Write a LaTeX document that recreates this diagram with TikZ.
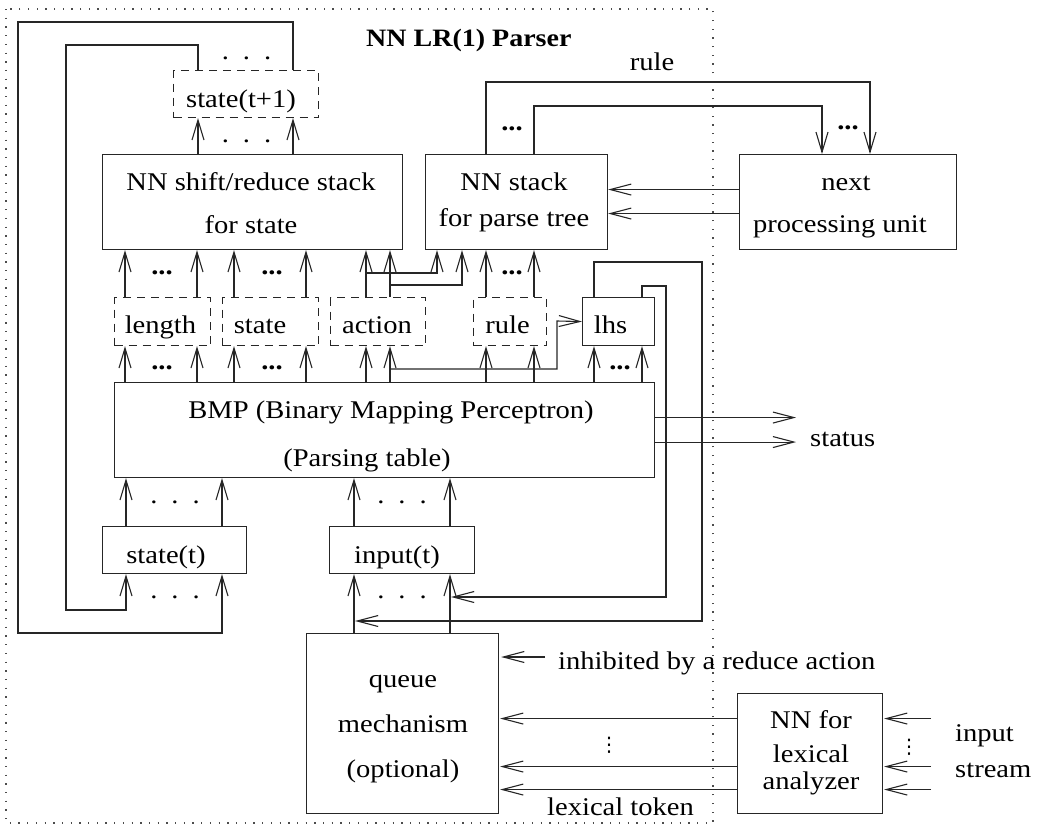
\documentclass[tikz,border=0pt]{standalone}
\usepackage{fontspec}
\setmainfont{Liberation Serif}[FakeStretch=1.12]
\newfontfamily\symfont{DejaVu Sans}
\usetikzlibrary{arrows.meta,calc}
\newcommand{\spdots}{.\hspace{14pt}.\hspace{14pt}.}
\begin{document}
\begin{tikzpicture}[x=1pt,y=-1pt,
  ln/.style={line width=1.1pt, draw=black!85},
  box/.style={ln, draw, inner sep=0pt, anchor=north west},
  dbox/.style={box, dash pattern=on 8pt off 6pt},
  arr/.style={ln, -{Straight Barb[length=20pt,width=12pt]}},
  harr/.style={ln, -{Straight Barb[length=21pt,width=11pt]}},
  txt/.style={inner sep=0pt, anchor=base, font=\fontsize{25.5}{30}\selectfont},
  ltxt/.style={txt, anchor=base west},
  bdots/.style={txt, font=\fontsize{25.5}{30}\selectfont\bfseries},
  vdot/.style={inner sep=0pt, anchor=center, font=\symfont\fontsize{20}{24}\selectfont},
]
\useasboundingbox (0,0) rectangle (1037,828);
\foreach \x in {18,66,125,126,197,198,222,234,293,306,354,366,390,437,450,462,486,534,594,642,822,870}
  \coordinate (c\x) at (\x,0);

% frame
\draw[line width=1.3pt, black!70, dash pattern=on 1.3pt off 7.4pt] (6,9) rectangle (713,823);
\node[ltxt, font=\fontsize{25}{30}\selectfont\bfseries] (title) at (366,46) {NN LR(1) Parser};

% boxes
\node[dbox, minimum width=145pt, minimum height=47pt] (st1) at (173,70) {};
\node[box, minimum width=300pt, minimum height=95pt] (stackS) at (102,154) {};
\node[box, minimum width=182pt, minimum height=95pt] (stackP) at (425,154) {};
\node[box, minimum width=217pt, minimum height=95pt] (next) at (739,154) {};
\node[dbox, minimum width=96pt, minimum height=48pt] (length) at (114,297) {};
\node[dbox, minimum width=96pt, minimum height=48pt] (stateB) at (222,297) {};
\node[dbox, minimum width=95pt, minimum height=48pt] (action) at (330,297) {};
\node[dbox, minimum width=73pt, minimum height=48pt] (rule) at (473,297) {};
\node[box, minimum width=72pt, minimum height=48pt] (lhs) at (582,297) {};
\node[box, minimum width=540pt, minimum height=95pt] (bmp) at (114,382) {};
\node[box, minimum width=144pt, minimum height=47pt] (stt) at (102,526) {};
\node[box, minimum width=145pt, minimum height=47pt] (inp) at (329,526) {};
\node[box, minimum width=192pt, minimum height=180pt] (queue) at (306,633) {};
\node[box, minimum width=145pt, minimum height=120pt] (lex) at (737,693) {};

% texts
\node[txt] (t-st1) at (241,107) {state(t+1)};
\node[txt] (t-sS1) at (251,190) {NN shift/reduce stack};
\node[txt] (t-sS2) at (251,233) {for state};
\node[txt] (t-sP1) at (514,190) {NN stack};
\node[txt] (t-sP2) at (514,226) {for parse tree};
\node[txt] (t-nx1) at (846,190) {next};
\node[txt] (t-nx2) at (840,232) {processing unit};
\node[txt] (t-rulelab) at (652,70) {rule};
\node[txt] (t-len) at (160.5,333) {length};
\node[txt] (t-sta) at (260,333) {state};
\node[txt] (t-act) at (377,333) {action};
\node[txt] (t-rul) at (507.5,333) {rule};
\node[txt] (t-lhs) at (610.5,333) {lhs};
\node[txt] (t-bmp1) at (391,418) {BMP (Binary Mapping Perceptron)};
\node[txt] (t-bmp2) at (367,466) {(Parsing table)};
\node[txt] (t-stt) at (166,563) {state(t)};
\node[txt] (t-inp) at (397,563) {input(t)};
\node[ltxt] (t-status) at (810,446) {status};
\node[txt] (t-q1) at (403,687) {queue};
\node[txt] (t-q2) at (403,732) {mechanism};
\node[txt] (t-q3) at (403,777) {(optional)};
\node[ltxt] (t-inh) at (558,669) {inhibited by a reduce action};
\node[txt] (t-lx1) at (811,728) {NN for};
\node[txt] (t-lx2) at (811,762) {lexical};
\node[txt] (t-lx3) at (811,789) {analyzer};
\node[ltxt] (t-tok) at (547,815) {lexical token};
\node[ltxt] (t-in1) at (955,741) {input};
\node[ltxt] (t-in2) at (955,777) {stream};

% dots
\node[txt] (d1) at (246.5,59) {\spdots};
\node[txt] (d2) at (246.5,142) {\spdots};
\node[txt] (d3) at (175,503) {\spdots};
\node[txt] (d4) at (402,503) {\spdots};
\node[txt] (d5) at (175,598) {\spdots};
\node[txt] (d6) at (402,598) {\spdots};
\node[bdots] (e1) at (162,274) {...};
\node[bdots] (e2) at (272,274) {...};
\node[bdots] (e3) at (512,274) {...};
\node[bdots] (e4) at (162,369) {...};
\node[bdots] (e5) at (272,369) {...};
\node[bdots] (e6) at (620,369) {...};
\node[bdots] (e7) at (512,130) {...};
\node[bdots] (e8) at (848,129) {...};
\node[vdot] (v1) at (609,745) {⋮};
\node[vdot] (v2) at (909,747) {⋮};

% feedback loops
\draw[arr] (c293 |- st1.north) -- (293,22) -- (18,22) -- (18,633) -- (222,633) -- (c222 |- stt.south);
\draw[arr] (c198 |- st1.north) -- (198,45) -- (66,45) -- (66,610) -- (126,610) -- (c126 |- stt.south);
% stack -> state(t+1)
\draw[arr] (c198 |- stackS.north) -- (c198 |- st1.south);
\draw[arr] (c293 |- stackS.north) -- (c293 |- st1.south);
% dashed boxes -> stacks
\draw[arr] (c125 |- length.north) -- (c125 |- stackS.south);
\draw[arr] (c197 |- length.north) -- (c197 |- stackS.south);
\draw[arr] (c234 |- stateB.north) -- (c234 |- stackS.south);
\draw[arr] (c306 |- stateB.north) -- (c306 |- stackS.south);
\draw[arr] (c366 |- action.north) -- (c366 |- stackS.south);
\draw[arr] (c390 |- action.north) -- (c390 |- stackS.south);
\draw[arr] (366,273) -- (437,273) -- (c437 |- stackP.south);
\draw[arr] (390,285) -- (462,285) -- (c462 |- stackP.south);
\draw[arr] (c486 |- rule.north) -- (c486 |- stackP.south);
\draw[arr] (c534 |- rule.north) -- (c534 |- stackP.south);
% bmp -> dashed boxes
\draw[arr] (c125 |- bmp.north) -- (c125 |- length.south);
\draw[arr] (c197 |- bmp.north) -- (c197 |- length.south);
\draw[arr] (c234 |- bmp.north) -- (c234 |- stateB.south);
\draw[arr] (c306 |- bmp.north) -- (c306 |- stateB.south);
\draw[arr] (c366 |- bmp.north) -- (c366 |- action.south);
\draw[arr] (c390 |- bmp.north) -- (c390 |- action.south);
\draw[arr] (c486 |- bmp.north) -- (c486 |- rule.south);
\draw[arr] (c534 |- bmp.north) -- (c534 |- rule.south);
\draw[arr] (c594 |- bmp.north) -- (c594 |- lhs.south);
\draw[arr] (c642 |- bmp.north) -- (c642 |- lhs.south);
% action -> lhs
\draw[harr] (390,369) -- (557,369) -- (557,321) -- (lhs.west);
% lhs -> input(t)
\draw[harr] (c594 |- lhs.north) -- (594,262) -- (702,262) -- (702,621) -- (355,621);
\draw[harr] (c642 |- lhs.north) -- (642,286) -- (666,286) -- (666,597) -- (451,597);
% status
\draw[harr] ([yshift=12.5pt]bmp.east) -- ++(141,0);
\draw[harr] ([yshift=-12pt]bmp.east) -- ++(141,0);
% rule output
\draw[arr] (c486 |- stackP.north) -- (486,82) -- (870,82) -- (c870 |- next.north);
\draw[arr] (c534 |- stackP.north) -- (534,106) -- (822,106) -- (c822 |- next.north);
% next -> parse tree stack
\draw[harr] ([yshift=12.5pt]next.west) -- ([yshift=12.5pt]stackP.east);
\draw[harr] ([yshift=-11.5pt]next.west) -- ([yshift=-11.5pt]stackP.east);
% bottom
\draw[arr] (c126 |- stt.north) -- (c126 |- bmp.south);
\draw[arr] (c222 |- stt.north) -- (c222 |- bmp.south);
\draw[arr] (c354 |- inp.north) -- (c354 |- bmp.south);
\draw[arr] (c450 |- inp.north) -- (c450 |- bmp.south);
\draw[arr] (c354 |- queue.north) -- (c354 |- inp.south);
\draw[arr] (c450 |- queue.north) -- (c450 |- inp.south);
\draw[harr] (545,657) -- ([xshift=2pt]queue.east |- 0,657);
\draw[harr] ([yshift=35pt]lex.west) -- ([yshift=35pt,xshift=1pt]queue.east |- lex.west);
\draw[harr] ([yshift=-13pt]lex.west) -- ([yshift=-13pt,xshift=1pt]queue.east |- lex.west);
\draw[harr] ([yshift=-36pt]lex.west) -- ([yshift=-36pt,xshift=1pt]queue.east |- lex.west);
\draw[harr] ([yshift=35pt,xshift=48pt]lex.east) -- ([yshift=35pt,xshift=1pt]lex.east);
\draw[harr] ([yshift=-13pt,xshift=48pt]lex.east) -- ([yshift=-13pt,xshift=1pt]lex.east);
\draw[harr] ([yshift=-36pt,xshift=48pt]lex.east) -- ([yshift=-36pt,xshift=1pt]lex.east);
\end{tikzpicture}
\end{document}
